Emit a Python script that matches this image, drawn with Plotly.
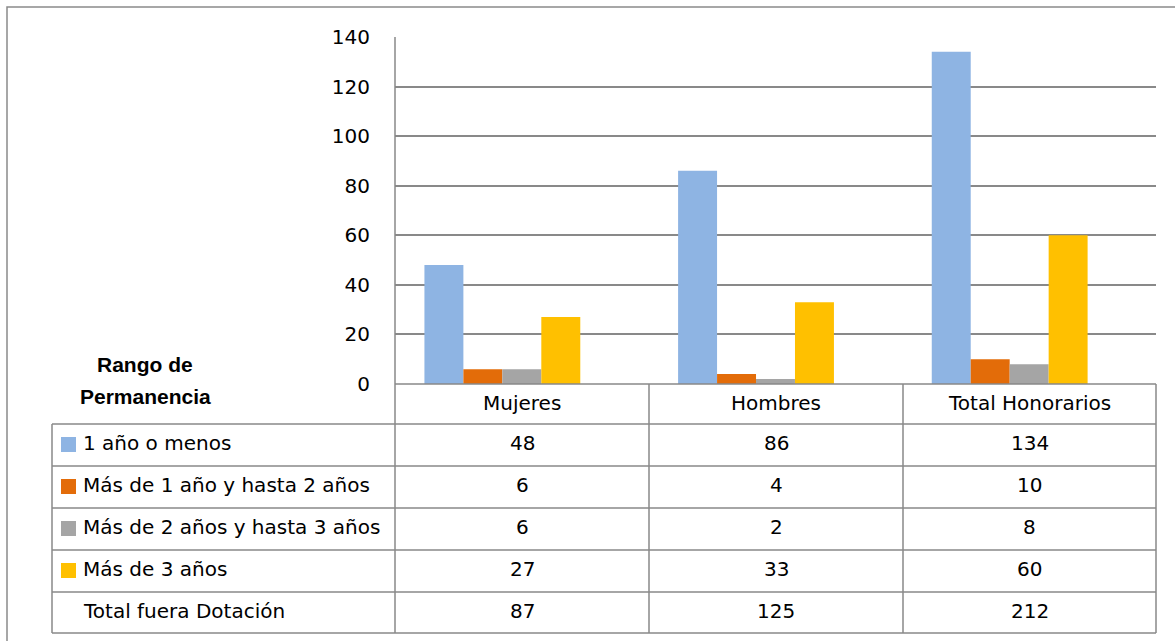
import plotly.graph_objects as go

# data
categories = ["Mujeres", "Hombres", "Total Honorarios"]
series_names = ["1 año o menos", "Más de 1 año y hasta 2 años",
                "Más de 2 años y hasta 3 años", "Más de 3 años"]
un_anio = [48, 86, 134]
uno_a_dos = [6, 4, 10]
dos_a_tres = [6, 2, 8]
mas_de_tres = [27, 33, 60]
total_name = "Total fuera Dotación"
totales = [87, 125, 212]
y_ticks = [0, 20, 40, 60, 80, 100, 120, 140]

colors = ["#8EB4E3", "#E36C09", "#A5A5A5", "#FFC000"]
series_vals = [un_anio, uno_a_dos, dos_a_tres, mas_de_tres]

W, H = 1175, 641
X0, X1 = 395, 1156      # plot area in px
Y0, Y1 = 37, 384
FONT = "DejaVu Sans"
LINE = "#898989"

def px_x(p):
    return (p - X0) / (X1 - X0)

def px_y(p):
    return (Y1 - p) / (Y1 - Y0)

fig = go.Figure()
for name, vals, col in zip(series_names, series_vals, colors):
    fig.add_trace(go.Bar(x=categories, y=vals, name=name,
                         marker=dict(color=col, line_width=0)))
# the total series is in the table but has no fill
fig.add_trace(go.Bar(x=categories, y=totales, name=total_name,
                     marker=dict(color="rgba(0,0,0,0)", line_width=0),
                     hoverinfo="skip"))

shapes = []
def hline(y, xa, xb):
    shapes.append(dict(type="line", xref="paper", yref="paper",
                       x0=px_x(xa), x1=px_x(xb), y0=px_y(y), y1=px_y(y),
                       line=dict(color=LINE, width=1.5)))

def vline(x, ya, yb):
    shapes.append(dict(type="line", xref="paper", yref="paper",
                       x0=px_x(x), x1=px_x(x), y0=px_y(ya), y1=px_y(yb),
                       line=dict(color=LINE, width=1.5)))

# outer frame (right and bottom edges fall outside the picture)
shapes.append(dict(type="rect", xref="paper", yref="paper",
                   x0=px_x(7), x1=px_x(1220), y0=px_y(7), y1=px_y(700),
                   line=dict(color="#8a8a8a", width=1.5), layer="below"))

row_lines = [424, 466, 508, 550, 592, 633]
col_lines = [X0, 649, 903, X1]
hline(Y1, X0, X1)
for y in row_lines:
    hline(y, 52, X1)
vline(52, 424, 633)
vline(X0, Y0, 633)
for x in col_lines[1:]:
    vline(x, Y1, 633)

ann = []
def text(x, y, s, anchor="center", size=20, fam=FONT, color="black"):
    ann.append(dict(x=px_x(x), y=px_y(y), xref="paper", yref="paper",
                    text=s, showarrow=False, xanchor=anchor, yanchor="middle",
                    font=dict(family=fam, size=size, color=color)))

col_centers = [(col_lines[i] + col_lines[i + 1]) / 2 for i in range(3)]
for cx, cat in zip(col_centers, categories):
    text(cx, 403, cat)

row_centers = [(row_lines[i] + row_lines[i + 1]) / 2 - 2 for i in range(5)]
table_rows = list(zip(series_names, series_vals)) + [(total_name, totales)]
for i, (name, vals) in enumerate(table_rows):
    cy = row_centers[i]
    text(81, cy, name, anchor="left")
    for cx, v in zip(col_centers, vals):
        text(cx, cy, str(v))
    if i < 4:
        shapes.append(dict(type="rect", xref="paper", yref="paper",
                           x0=px_x(61), x1=px_x(76),
                           y0=px_y(cy - 6), y1=px_y(cy + 9),
                           fillcolor=colors[i], line_width=0))

text(145, 364, "<b>Rango de</b>", size=21, fam="Liberation Sans")
text(145, 396, "<b>Permanencia</b>", size=21, fam="Liberation Sans")

fig.update_layout(
    width=W, height=H,
    margin=dict(l=X0, r=W - X1, t=Y0, b=H - Y1),
    plot_bgcolor="white", paper_bgcolor="white",
    barmode="group", bargap=0.232, bargroupgap=0,
    showlegend=False,
    shapes=shapes, annotations=ann,
    font=dict(family=FONT, size=20, color="black"),
)
fig.update_xaxes(showticklabels=False, showgrid=False, showline=False,
                 zeroline=False, ticks="")
fig.update_yaxes(range=[0, 140], tickvals=y_ticks, showgrid=True,
                 gridcolor=LINE, gridwidth=1.5, zeroline=False,
                 showline=False, ticks="", ticklabelstandoff=24,
                 tickfont=dict(family=FONT, size=20, color="black"))

# drop the default page margin so the figure fills the window exactly
fig.write_html("out.html", config={"displayModeBar": False},
               post_script="document.body.style.margin='0';"
                           "document.body.style.overflow='hidden';")
